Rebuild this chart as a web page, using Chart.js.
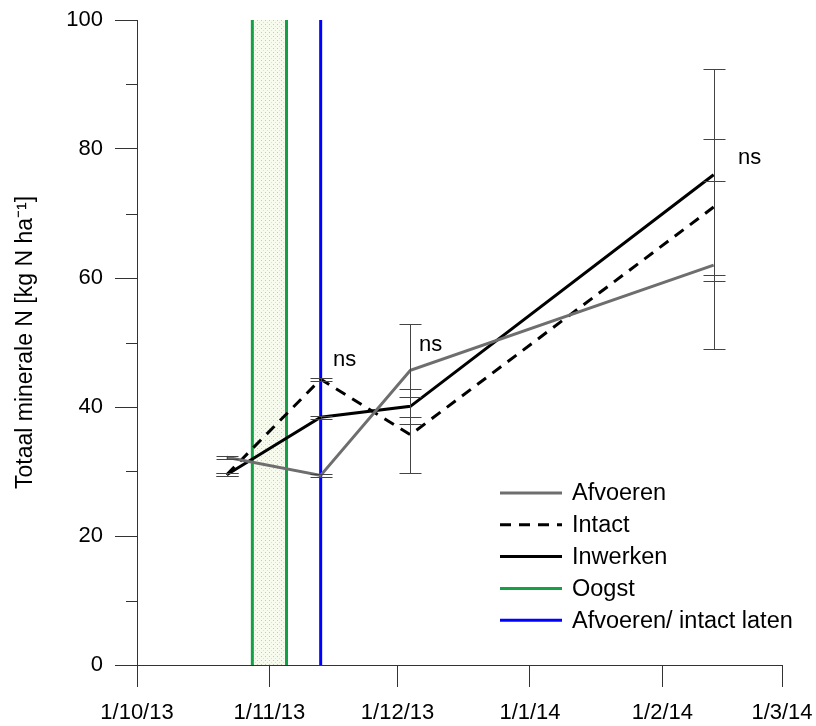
<!DOCTYPE html>
<html>
<head>
<meta charset="utf-8">
<script src="https://cdn.jsdelivr.net/npm/chart.js@4.4.1/dist/chart.umd.min.js"></script>
<style>
    html, body { margin: 0; padding: 0; background: #fff; }
    canvas { display: block; }
</style>
</head>
<body>
<canvas id="nChart" width="816" height="726"></canvas>
<script>
// Sampling dates as days since 1 Oct 2013
const sampleDays = [21, 43, 64, 135];
const afvoeren = [32.2, 29.4, 45.7, 62.0];
const intact = [29.5, 44.3, 35.7, 71.0];
const inwerken = [29.5, 38.4, 40.1, 76.0];
const afvoerenErr = [0.2, 0.2, 7.2, 13.0];
const intactErr = [0.2, 0.2, 5.9, 10.6];
const inwerkenErr = [0.2, 0.2, 2.7, 16.4];

// Harvest window and removal / leave-intact date
const oogstDays = [27, 35];
const afvoerDay = 43;

// Month ticks on the date axis
const monthDays = [0, 31, 61, 92, 123, 151];
const monthLabels = ['1/10/13', '1/11/13', '1/12/13', '1/1/14', '1/2/14', '1/3/14'];

// Significance labels
const nsLabels = ['ns', 'ns', 'ns'];
const nsDays = [45.9, 66.0, 140.7];
const nsValues = [47.3, 49.6, 78.6];

const FONT = "'Liberation Sans', Arial, sans-serif";
const GREY = '#6e6e6e';
const GREEN = '#14a044';
const BLUE = '#0000ff';
const AXIS = '#333';

function vline(day) {
    return [{ x: day, y: 0 }, { x: day, y: 100 }];
}

function series(values) {
    return sampleDays.map((d, i) => ({ x: d, y: values[i] }));
}

// dotted fill for the harvest window
function dotPattern(ctx) {
    const c = document.createElement('canvas');
    c.width = 4;
    c.height = 4;
    const g = c.getContext('2d');
    g.fillStyle = '#f6fbee';
    g.fillRect(0, 0, 4, 4);
    g.fillStyle = '#bcd97c';
    g.fillRect(1, 0, 1, 1);
    g.fillStyle = '#d6e8ab';
    g.fillRect(3, 2, 1, 1);
    return ctx.createPattern(c, 'repeat');
}

const harvestBand = {
    id: 'harvestBand',
    beforeDatasetsDraw(chart) {
        const { ctx, chartArea, scales: { x } } = chart;
        const x0 = x.getPixelForValue(oogstDays[0]);
        const x1 = x.getPixelForValue(oogstDays[1]);
        ctx.save();
        ctx.fillStyle = dotPattern(ctx);
        ctx.fillRect(x0, chartArea.top, x1 - x0, chartArea.bottom - chartArea.top);
        ctx.restore();
    }
};

const errorBars = {
    id: 'errorBars',
    afterDatasetsDraw(chart) {
        const { ctx, scales: { x, y } } = chart;
        const sets = [[afvoeren, afvoerenErr], [intact, intactErr], [inwerken, inwerkenErr]];
        ctx.save();
        ctx.strokeStyle = '#444';
        ctx.lineWidth = 1;
        sets.forEach(([vals, errs]) => {
            sampleDays.forEach((d, i) => {
                const px = Math.round(x.getPixelForValue(d)) + 0.5;
                const top = Math.round(y.getPixelForValue(vals[i] + errs[i])) + 0.5;
                const bot = Math.round(y.getPixelForValue(vals[i] - errs[i])) + 0.5;
                ctx.beginPath();
                ctx.moveTo(px, top);
                ctx.lineTo(px, bot);
                ctx.moveTo(px - 11, top);
                ctx.lineTo(px + 11, top);
                ctx.moveTo(px - 11, bot);
                ctx.lineTo(px + 11, bot);
                ctx.stroke();
            });
        });
        ctx.restore();
    }
};

const extras = {
    id: 'extras',
    afterDraw(chart) {
        const { ctx, chartArea, scales: { x, y } } = chart;
        ctx.save();

        // minor ticks on the y axis
        ctx.strokeStyle = AXIS;
        ctx.lineWidth = 1;
        for (let v = 10; v < 100; v += 20) {
            const py = Math.round(y.getPixelForValue(v)) + 0.5;
            ctx.beginPath();
            ctx.moveTo(chartArea.left - 11, py);
            ctx.lineTo(chartArea.left, py);
            ctx.stroke();
        }

        // ns labels
        ctx.fillStyle = '#000';
        ctx.font = `22px ${FONT}`;
        ctx.textAlign = 'left';
        ctx.textBaseline = 'middle';
        nsLabels.forEach((t, i) => {
            ctx.fillText(t, x.getPixelForValue(nsDays[i]), y.getPixelForValue(nsValues[i]));
        });

        // legend
        ctx.font = `23.5px ${FONT}`;
        const items = chart.data.datasets.filter(ds => ds.inLegend);
        const lx = chartArea.right - 282;
        let ly = chartArea.bottom - 172;
        items.forEach(ds => {
            ctx.beginPath();
            ctx.strokeStyle = ds.borderColor;
            ctx.lineWidth = 3;
            ctx.setLineDash(ds.borderDash || []);
            ctx.moveTo(lx, ly);
            ctx.lineTo(lx + 62, ly);
            ctx.stroke();
            ctx.setLineDash([]);
            ctx.fillText(ds.label, lx + 72, ly + 1);
            ly += 31.8;
        });
        ctx.restore();
    }
};

const ctx = document.getElementById('nChart').getContext('2d');
new Chart(ctx, {
    type: 'line',
    data: {
        datasets: [
            { label: 'Afvoeren', data: series(afvoeren), borderColor: GREY, borderWidth: 3, inLegend: true },
            { label: 'Intact', data: series(intact), borderColor: '#000', borderWidth: 3, borderDash: [11, 8], inLegend: true },
            { label: 'Inwerken', data: series(inwerken), borderColor: '#000', borderWidth: 3, inLegend: true },
            { label: 'Oogst', data: vline(oogstDays[0]), borderColor: GREEN, borderWidth: 3, inLegend: true },
            { label: 'Oogst', data: vline(oogstDays[1]), borderColor: GREEN, borderWidth: 3 },
            { label: 'Afvoeren/ intact laten', data: vline(afvoerDay), borderColor: BLUE, borderWidth: 3, inLegend: true }
        ]
    },
    options: {
        responsive: false,
        animation: false,
        layout: { padding: { top: 20, right: 34, left: 0, bottom: 0 } },
        elements: {
            point: { radius: 0 },
            line: { tension: 0, borderCapStyle: 'butt' }
        },
        plugins: {
            legend: { display: false },
            tooltip: { enabled: false }
        },
        scales: {
            x: {
                type: 'linear',
                min: 0,
                max: 151,
                afterBuildTicks: scale => {
                    scale.ticks = monthDays.map(v => ({ value: v }));
                },
                afterFit: scale => {
                    scale.height = 61;
                    scale.paddingLeft = 0;
                    scale.paddingRight = 0;
                },
                grid: { drawOnChartArea: false, tickLength: 22, tickColor: AXIS },
                border: { color: AXIS, width: 1 },
                ticks: {
                    callback: (v, i) => monthLabels[i],
                    color: '#000',
                    font: { family: FONT, size: 22 },
                    padding: 13,
                    maxRotation: 0,
                    autoSkip: false
                }
            },
            y: {
                min: 0,
                max: 100,
                afterFit: scale => {
                    scale.width = 137;
                    scale.paddingTop = 0;
                    scale.paddingBottom = 0;
                },
                grid: { drawOnChartArea: false, tickLength: 22, tickColor: AXIS },
                border: { color: AXIS, width: 1 },
                ticks: {
                    stepSize: 20,
                    color: '#000',
                    font: { family: FONT, size: 22 },
                    padding: 12
                },
                title: {
                    display: true,
                    text: 'Totaal minerale N [kg N ha⁻¹]',
                    color: '#000',
                    font: { family: FONT, size: 23 },
                    padding: { top: 12, bottom: 0 }
                }
            }
        }
    },
    plugins: [harvestBand, errorBars, extras]
});
</script>
</body>
</html>
